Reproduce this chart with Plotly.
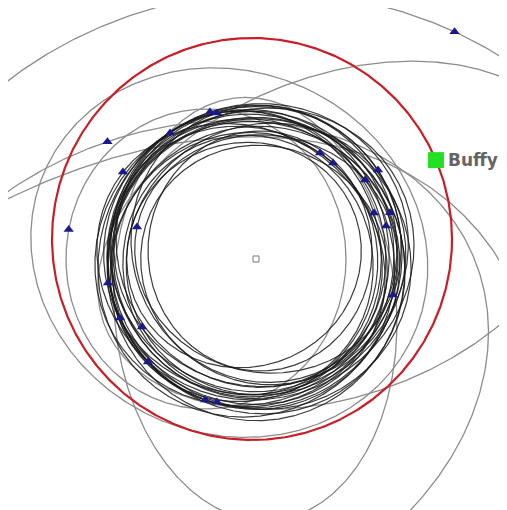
import numpy as np
import plotly.graph_objects as go

# Bahnen in Bildeinheiten, Sonne im Ursprung
# jede Bahn: Mittelpunkt (cx, cy), Halbachsen (a, b), Drehung in Grad
# obj_t: Lage des Objekts auf der Bahn (Parameterwinkel), None = kein Objekt

# Buffy (rote Bahn)
buffy_cx, buffy_cy, buffy_a, buffy_b, buffy_tilt = -4, 20, 200, 201, 0
buffy_t = 23.1

# klassischer Gürtel (schwarz)
belt_cx = [-5, 0, 8, -15, 10, -10, -12, -5, -8, -10, 0, -5, 0, 0, 5, 10, 0, -5, 5, -12, 8, -6, 4, -8]
belt_cy = [10, 10, 15, -5, 5, 0, -8, -5, 3, 5, -8, 5, 5, -10, 5, 0, -5, 0, -5, 4, -6, -2, 8, -6]
belt_a = [141.5, 144.5, 139.2, 149.6, 131.8, 129.3, 136.9, 141.6, 155.9, 134.4, 144.5, 137.9, 143.0,
          148.7, 154.8, 141.4, 145.8, 148.3, 144.8, 118, 125, 158, 112, 130]
belt_b = [131.6, 153.2, 132.2, 134.6, 118.6, 139.6, 131.4, 147.3, 146.5, 143.8, 140.2, 144.8, 131.6,
          151.7, 144.0, 134.3, 153.1, 142.4, 150.6, 112, 118, 150, 120, 125]
belt_tilt = [124.9, 108.6, 109.7, 142.1, 168.2, 55.1, 49.4, 36.4, 33.5, 17.8, 22.0, 11.7, -16.7,
             185.4, 204.4, 208.7, 222.2, 252.0, 252.3, 20, -30, 60, 0, 100]
belt_obj_t = [0] * 19 + [None] * 5

# gestreute Objekte (grau)
scat_cx = [16, -76.4, -26.7, -209, -0.7, 83.6, -50]
scat_cy = [-158, -117.0, 6.4, -374, -50, 23.7, 0]
scat_a = [432, 317.2, 181.1, 590, 141.0, 159.5, 140]
scat_b = [425, 245.0, 201.8, 380, 212, 251.7, 150]
scat_tilt = [0, -159.0, 65.8, 45, -175.2, 111.0, 0]
scat_obj_t = [65, 267, None, None, None, None, 168.7]


def ellipse(cx, cy, a, b, tilt, t):
    t = np.radians(t)
    ph = np.radians(tilt)
    x = cx + a * np.cos(t) * np.cos(ph) - b * np.sin(t) * np.sin(ph)
    y = cy + a * np.cos(t) * np.sin(ph) + b * np.sin(t) * np.cos(ph)
    return x, y


fig = go.Figure()
tt = np.linspace(0, 360, 721)
obj_x, obj_y = [], []

# graue Bahnen
for cx, cy, a, b, tilt, ot in zip(scat_cx, scat_cy, scat_a, scat_b, scat_tilt, scat_obj_t):
    x, y = ellipse(cx, cy, a, b, tilt, tt)
    fig.add_trace(go.Scatter(x=x, y=y, mode="lines", hoverinfo="skip",
                             line=dict(color="rgb(140,140,140)", width=1.3)))
    if ot is not None:
        px, py = ellipse(cx, cy, a, b, tilt, ot)
        obj_x.append(px)
        obj_y.append(py)

# schwarze Bahnen
for cx, cy, a, b, tilt, ot in zip(belt_cx, belt_cy, belt_a, belt_b, belt_tilt, belt_obj_t):
    x, y = ellipse(cx, cy, a, b, tilt, tt)
    fig.add_trace(go.Scatter(x=x, y=y, mode="lines", hoverinfo="skip",
                             line=dict(color="rgba(25,25,25,0.85)", width=1.2)))
    if ot is not None:
        px, py = ellipse(cx, cy, a, b, tilt, ot)
        obj_x.append(px)
        obj_y.append(py)

# Buffy-Bahn
x, y = ellipse(buffy_cx, buffy_cy, buffy_a, buffy_b, buffy_tilt, tt)
fig.add_trace(go.Scatter(x=x, y=y, mode="lines", hoverinfo="skip",
                         line=dict(color="rgb(200,30,40)", width=2.2)))

# Objekte
fig.add_trace(go.Scatter(x=obj_x, y=obj_y, mode="markers",
                         marker=dict(symbol="triangle-up", size=9, color="rgb(25,25,140)")))

# Sonne
fig.add_trace(go.Scatter(x=[0], y=[0], mode="markers",
                         marker=dict(symbol="square-open", size=6, color="rgb(120,120,120)",
                                     line=dict(width=1))))

# Buffy selbst
bx, by = ellipse(buffy_cx, buffy_cy, buffy_a, buffy_b, buffy_tilt, buffy_t)
fig.add_trace(go.Scatter(x=[bx], y=[by], mode="markers",
                         marker=dict(symbol="square", size=16, color="rgb(34,225,34)")))
fig.add_annotation(x=bx, y=by, text="Buffy", showarrow=False, xanchor="left", xshift=10,
                   font=dict(family="DejaVu Sans", size=17, color="rgb(100,100,100)", weight="bold"))

# Seite hat 8px Rand, daher Achsenbereich verschoben
fig.update_layout(width=507, height=510, margin=dict(l=0, r=0, t=0, b=0),
                  plot_bgcolor="white", paper_bgcolor="white", showlegend=False,
                  xaxis=dict(range=[-248, 259], visible=False),
                  yaxis=dict(range=[-259, 251], visible=False))
fig.write_html("out.html")
